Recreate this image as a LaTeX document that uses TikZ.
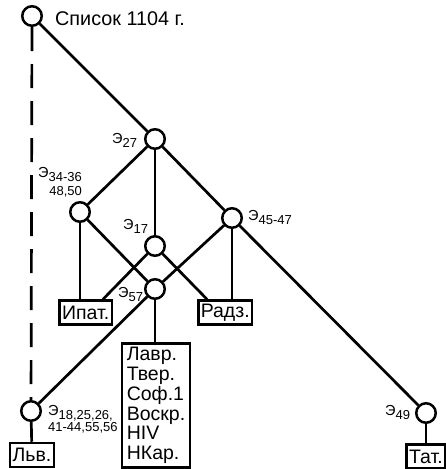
\documentclass[tikz,border=0pt]{standalone}
\usepackage{fontspec}
\setmainfont{Liberation Sans}
\usetikzlibrary{positioning}
\newcommand{\esub}[1]{{\fontsize{14.5}{15}\selectfont Э}\raisebox{-4pt}{\fontsize{13}{13}\selectfont #1}}
\newcommand{\subline}[1]{{\fontsize{13}{13}\selectfont #1}}

\begin{document}
\begin{tikzpicture}[x=1pt,y=-1pt,
  circ/.style={draw,circle,line width=2.5pt,minimum size=19.5pt,inner sep=0pt},
  box/.style={draw,line width=2.5pt,inner xsep=2.5pt,inner ysep=0pt,minimum height=24pt,font=\fontsize{19.5}{19.8}\selectfont},
  link/.style={line width=2.7pt},
  elab/.style={inner sep=0pt,anchor=base west}]
\useasboundingbox (0,0) rectangle (446,469);

% circles
\node[circ] (src) at (32,16) {};
\node[circ] (e27) at (155,139) {};
\node[circ] (e34) at (80,212) {};
\node[circ] (e17) at (155,246) {};
\node[circ] (e45) at (232,218) {};
\node[circ] (e57) at (155,289) {};
\node[circ] (e18) at (31,411) {};
\node[circ] (e49) at (426,413) {};

% manuscripts
\node[box,anchor=east] (ipat) at (113,312.5) {Ипат.};
\node[box,anchor=west] (radz) at (197,312.5) {Радз.};
\node[box,anchor=north,align=left,inner xsep=5pt,inner ysep=4pt] (lavr) at (156,342) {Лавр.\\Твер.\\Соф.1\\Воскр.\\НIV\\НКар.};
\node[box] (lvov) at (32,455) {Льв.};
\node[box] (tat) at (426,456.5) {Тат.};

% labels
\node[inner sep=0pt,anchor=base west,font=\fontsize{19.8}{20}\selectfont] (title) at (55,25.5) {Список 1104 г.};
\node[elab] (l27) at (112,143) {\esub{27}};
\node[elab] (l34) at (38,177) {\esub{34-36}\llap{\raisebox{-18pt}{\subline{48,50}}}};
\node[elab] (l17) at (123,229) {\esub{17}};
\node[elab] (l45) at (248,220) {\esub{45-47}};
\node[elab] (l57) at (118,297) {\esub{57}};
\node[elab] (l18) at (48,415) {\rlap{\raisebox{-16pt}{\subline{41-44,55,56}}}\esub{18,25,26,}};
\node[elab] (l49) at (385,415) {\esub{49}};

% links
\draw[link,dash pattern=on 24pt off 13pt] (src) -- (e18);
\draw[link] (src) -- (e27);
\draw[link] (e27) -- (e45);
\draw[link] (e45) -- (e49);
\draw[link] (e27) -- (e34);
\draw[link] (e27) -- (e17);
\draw[link] (e34) -- (e34 |- ipat.north);
\draw[link] (e34) -- (e57);
\draw[link] (e17) -- ([xshift=-10pt]ipat.north east);
\draw[link] (e17) -- ([xshift=10pt]radz.north west);
\draw[link] (e45) -- (e45 |- radz.north);
\draw[link] (e45) -- (e57);
\draw[link] (e57) -- (e57 |- lavr.north);
\draw[link] (e57) -- (e18);
\draw[link] (e18) -- (lvov);
\draw[link] (e49) -- (tat);
\end{tikzpicture}
\end{document}
